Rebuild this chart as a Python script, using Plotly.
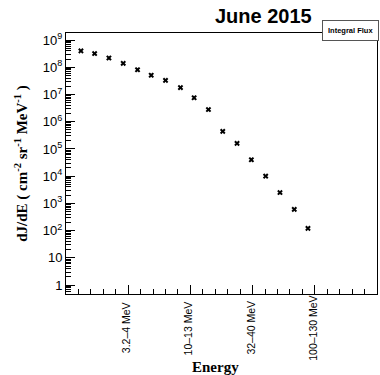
import plotly.graph_objects as go

# Integral flux per energy channel, June 2015
channel_pos = [0.24, 0.46, 0.69, 0.92, 1.15, 1.37, 1.60, 1.84, 2.06, 2.29,
               2.52, 2.75, 2.98, 3.21, 3.44, 3.67, 3.89]
flux = [4.0e8, 3.2e8, 2.2e8, 1.4e8, 8.1e7, 5.1e7, 3.3e7, 1.8e7, 7.6e6, 2.8e6,
        4.4e5, 1.6e5, 4.0e4, 1.0e4, 2.5e3, 6.0e2, 1.2e2]

x_tick_pos = [0, 1, 2, 3, 4, 5]
band_pos = [1, 2, 3, 4]
band_text = ["3.2\u20134 MeV", "10\u201313 MeV", "32\u201340 MeV", "100\u2013130 MeV"]

y_tick_vals = [1, 10, 1e2, 1e3, 1e4, 1e5, 1e6, 1e7, 1e8, 1e9]
y_tick_text = ["1", "10"] + ["10<sup>%d</sup>" % k for k in range(2, 10)]

fig = go.Figure()
fig.add_trace(go.Scatter(
    x=channel_pos, y=flux, mode="markers",
    marker=dict(symbol="x", size=5, color="black", line=dict(width=0)),
    showlegend=False,
))

sans = "Liberation Sans, Arial, sans-serif"
serif = "Liberation Serif, Times New Roman, serif"

fig.update_layout(
    width=380, height=375,
    margin=dict(l=66, r=3, t=33, b=81),
    paper_bgcolor="white", plot_bgcolor="white",
    font=dict(family=sans, color="black"),
    xaxis=dict(
        range=[0, 5], showgrid=False, zeroline=False, automargin=False,
        showline=True, linecolor="black", linewidth=1, mirror=True,
        tickmode="array", tickvals=x_tick_pos, showticklabels=False,
        ticks="inside", ticklen=9, tickcolor="black", tickwidth=1,
        minor=dict(dtick=0.2, ticks="inside", ticklen=5, tickcolor="black", showgrid=False),
    ),
    yaxis=dict(
        type="log", range=[-0.33, 9.26], showgrid=False, zeroline=False, automargin=False,
        showline=True, linecolor="black", linewidth=1, mirror=True,
        tickmode="array", tickvals=y_tick_vals, ticktext=y_tick_text,
        ticks="inside", ticklen=9, tickcolor="black", tickwidth=1,
        tickfont=dict(size=13, family=sans),
        minor=dict(dtick="D1", ticks="inside", ticklen=5, tickcolor="black", showgrid=False),
        title=dict(text="<b>dJ/dE ( cm<sup>-2</sup> sr<sup>-1</sup> MeV<sup>-1</sup> )</b>",
                   font=dict(family=serif, size=15), standoff=11),
    ),
)

# energy band labels, vertical and centred below each major tick
for pos, label in zip(band_pos, band_text):
    fig.add_annotation(
        text=label, x=pos, xref="x", y=0, yref="paper", yshift=-34, xshift=-2,
        xanchor="center", yanchor="middle", textangle=-90,
        showarrow=False, font=dict(family=sans, size=10.5, color="black"),
    )

fig.add_annotation(
    text="<b>Energy</b>", xref="paper", yref="paper",
    x=0.482, y=0, yshift=-73, xanchor="center", yanchor="middle",
    showarrow=False, font=dict(family=serif, size=15, color="black"),
)
fig.add_annotation(
    text="<b>June 2015</b>", xref="paper", yref="paper",
    x=0.636, y=1.0, xanchor="center", yanchor="bottom", yshift=4,
    showarrow=False, font=dict(family=sans, size=20, color="black"),
)
fig.add_annotation(
    text="<b>Integral Flux</b>", xref="paper", yref="paper",
    x=1.005, y=1.008, xanchor="right", yanchor="middle",
    showarrow=False, font=dict(family=sans, size=7.5, color="black"),
    bgcolor="white", bordercolor="#555555", borderwidth=1, borderpad=5,
)

fig.write_html("out.html")
